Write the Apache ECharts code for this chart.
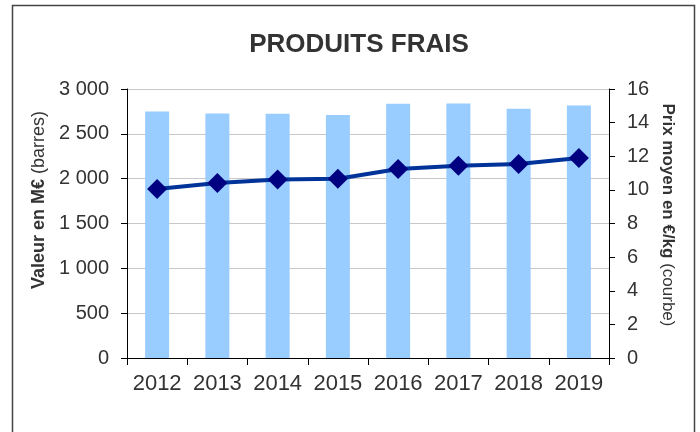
<!DOCTYPE html>
<html>
<head>
<meta charset="utf-8">
<script src="https://cdn.jsdelivr.net/npm/echarts@6/dist/echarts.min.js"></script>
<style>
  html, body { margin: 0; padding: 0; background: #fff; }
  #chart { width: 700px; height: 432px; }
</style>
</head>
<body>
<div id="chart"></div>
<script>
// données
const annees = ["2012", "2013", "2014", "2015", "2016", "2017", "2018", "2019"];
const valeurs = [2750, 2728, 2724, 2710, 2836, 2839, 2780, 2817]; // M€ (barres)
const prix = [10.05, 10.41, 10.61, 10.66, 11.24, 11.44, 11.54, 11.9]; // €/kg (courbe)

const police = "'Liberation Sans', Arial, sans-serif";

const chart = echarts.init(document.getElementById("chart"));

const option = {
  backgroundColor: "#fff",
  animation: false,
  title: {
    text: "PRODUITS FRAIS",
    left: 354,
    textAlign: "center",
    top: 27,
    textStyle: {
      fontFamily: police,
      fontSize: 26,
      fontWeight: "bold",
      color: "#333",
    },
  },
  grid: {
    left: 127,
    right: 91,
    top: 89,
    bottom: 74,
  },
  xAxis: {
    type: "category",
    data: annees,
    axisLine: { lineStyle: { color: "#000", width: 1 } },
    axisTick: { show: true, length: 7, lineStyle: { color: "#000" } },
    axisLabel: {
      interval: 0,
      hideOverlap: false,
      fontFamily: police,
      fontSize: 22,
      color: "#333",
      margin: 15,
    },
  },
  yAxis: [
    {
      type: "value",
      min: 0,
      max: 3000,
      interval: 500,
      axisLine: { show: true, lineStyle: { color: "#000" } },
      axisTick: { show: true, length: 6, lineStyle: { color: "#000" } },
      splitLine: { show: true, lineStyle: { color: "#c8c8c8", width: 1 } },
      axisLabel: {
        fontFamily: police,
        fontSize: 20,
        color: "#333",
        margin: 18,
        formatter: (v) => String(v).replace(/\B(?=(\d{3})+(?!\d))/g, " "),
      },
    },
    {
      type: "value",
      min: 0,
      max: 16,
      interval: 2,
      position: "right",
      axisLine: { show: true, lineStyle: { color: "#000" } },
      axisTick: { show: true, length: 6, lineStyle: { color: "#000" } },
      splitLine: { show: false },
      axisLabel: {
        fontFamily: police,
        fontSize: 20,
        color: "#333",
        margin: 18,
      },
    },
  ],
  graphic: [
    {
      type: "rect",
      shape: { x: 12.5, y: 5.5, width: 682, height: 460 },
      style: { fill: null, stroke: "#444", lineWidth: 1.5 },
      silent: true,
    },
    {
      type: "text",
      x: 39,
      y: 200,
      rotation: Math.PI / 2,
      style: {
        text: "{b|Valeur en M€ }{n|(barres)}",
        align: "center",
        verticalAlign: "middle",
        rich: {
          b: { fontFamily: police, fontSize: 18, fontWeight: "bold", fill: "#333" },
          n: { fontFamily: police, fontSize: 18, fill: "#333" },
        },
      },
    },
    {
      type: "text",
      x: 668,
      y: 215,
      rotation: -Math.PI / 2,
      style: {
        text: "{b|Prix moyen en €/kg }{n|(courbe)}",
        align: "center",
        verticalAlign: "middle",
        rich: {
          b: { fontFamily: police, fontSize: 17, fontWeight: "bold", fill: "#333" },
          n: { fontFamily: police, fontSize: 17, fill: "#333" },
        },
      },
    },
  ],
  series: [
    {
      name: "Valeur",
      type: "bar",
      yAxisIndex: 0,
      data: valeurs,
      barWidth: 24,
      itemStyle: { color: "#99ccff" },
    },
    {
      name: "Prix moyen",
      type: "line",
      yAxisIndex: 1,
      data: prix,
      symbol: "diamond",
      symbolSize: 20,
      lineStyle: { color: "#003399", width: 4 },
      itemStyle: { color: "#000080" },
      z: 3,
    },
  ],
};

chart.setOption(option);
</script>
</body>
</html>
